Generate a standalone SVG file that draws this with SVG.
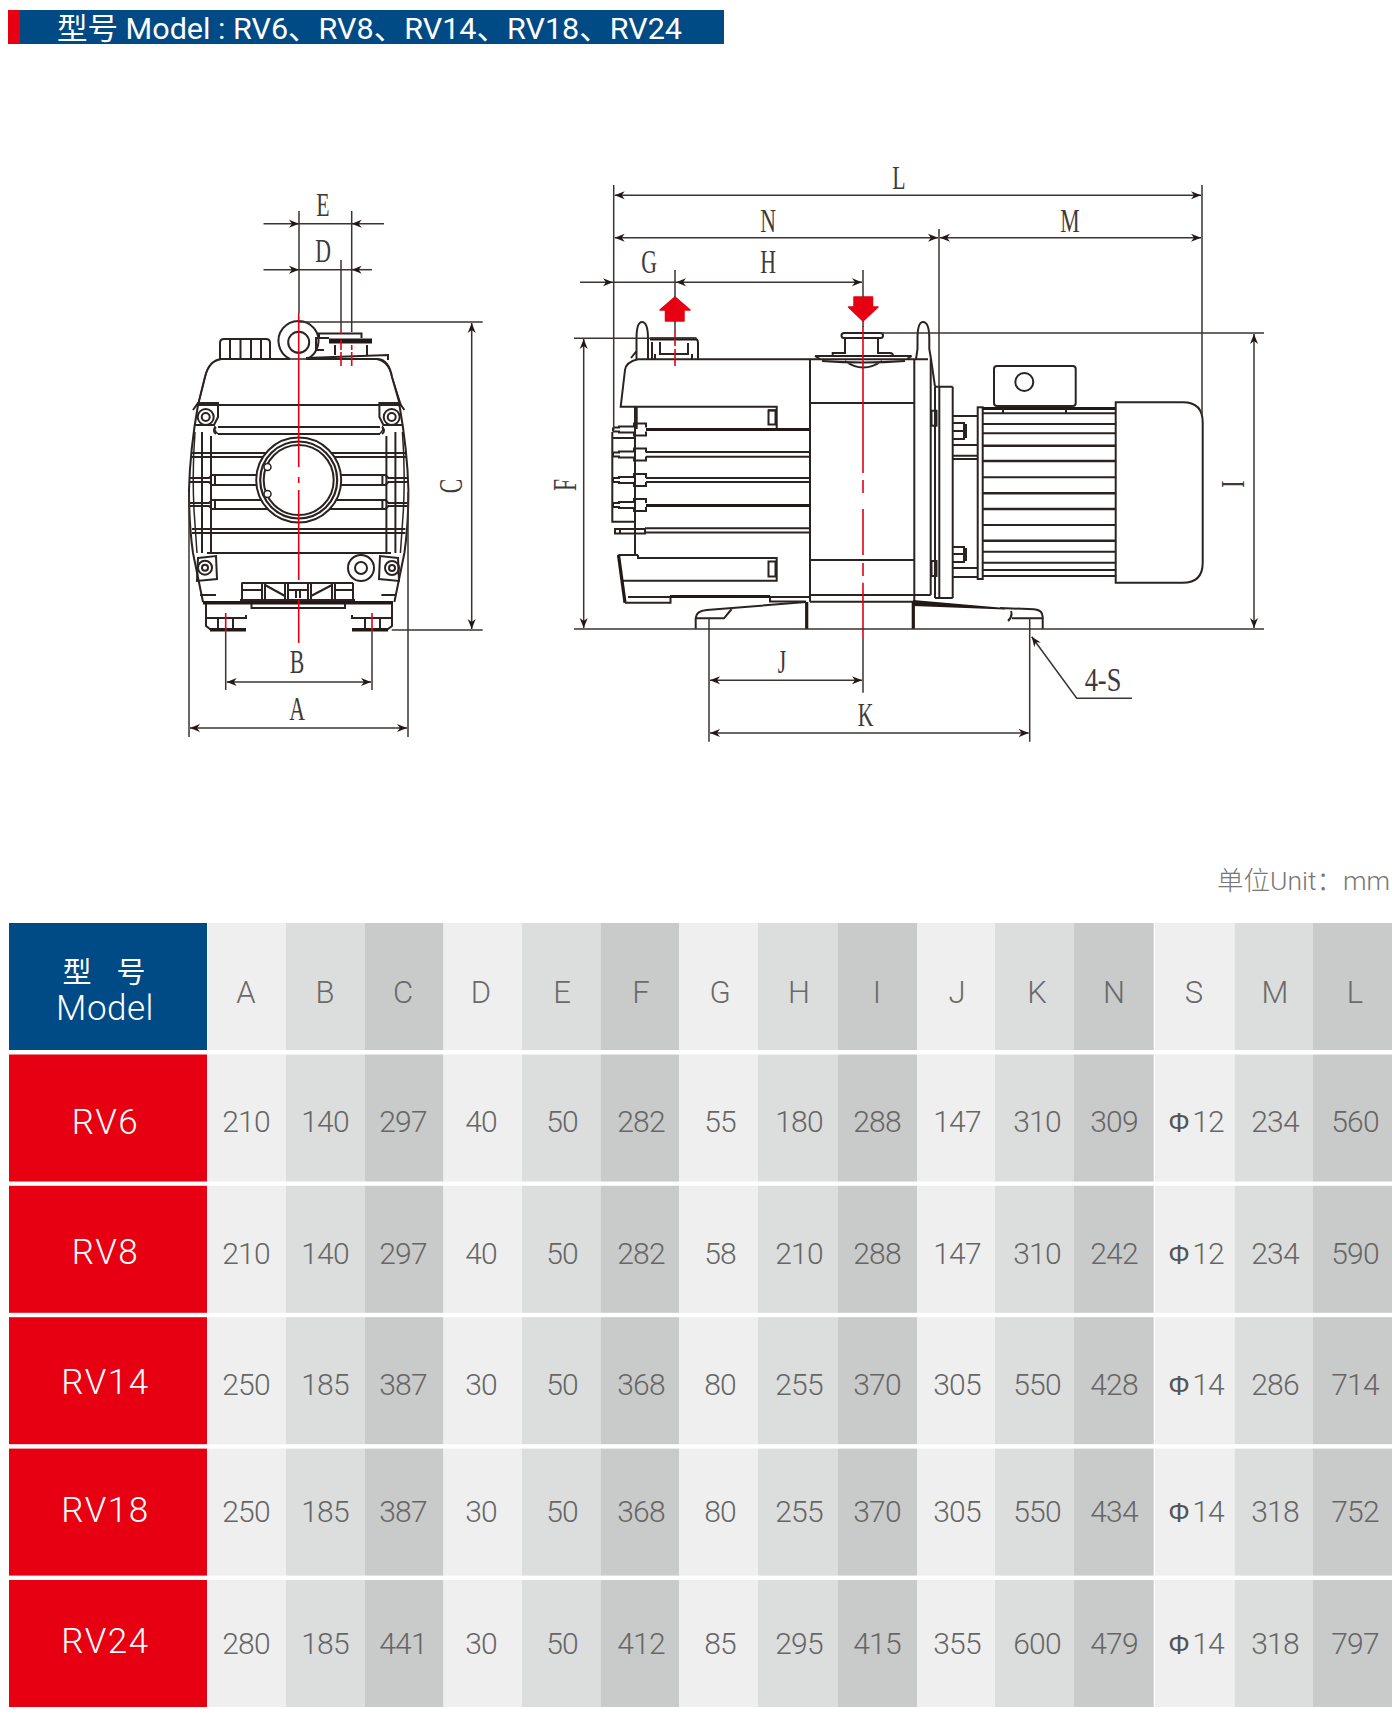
<svg xmlns="http://www.w3.org/2000/svg" xmlns:xlink="http://www.w3.org/1999/xlink" width="1400" height="1717" viewBox="0 0 1400 1717">
<style>
.l{fill:none;stroke:#2a2321;stroke-width:1.5}
.lf{fill:#fff;stroke:#2a2321;stroke-width:1.5}
.m{fill:none;stroke:#2a2321;stroke-width:2}
.t{fill:none;stroke:#231815;stroke-width:3.2}
.d{fill:none;stroke:#3a3432;stroke-width:1.5}
.da{fill:none;stroke:#3a3432;stroke-width:1.5;marker-end:url(#ah)}
.db{fill:none;stroke:#3a3432;stroke-width:1.5;marker-end:url(#ah);marker-start:url(#ah)}
.r{fill:none;stroke:#e60012;stroke-width:1.6}
.rf{fill:#e60012;stroke:#e60012;stroke-width:1.5;stroke-linejoin:round}
.dl{font-family:"Liberation Serif",serif;font-size:33px;fill:#3e3a39;text-anchor:middle}
.c{font-family:Roboto,"Liberation Sans",sans-serif;font-weight:300;font-size:30px;fill:#666;text-anchor:middle;letter-spacing:-.8px}
.h{font-family:Roboto,"Liberation Sans",sans-serif;font-weight:300;font-size:31px;fill:#6a6a6a;text-anchor:middle}
.w{font-family:Roboto,"Liberation Sans",sans-serif;font-weight:300;font-size:35px;fill:#fff;text-anchor:middle;letter-spacing:1.5px}
.a{fill:#efefef}.b{fill:#dcdddd}.g{fill:#c9caca}
.phi{font-family:"Liberation Sans",sans-serif;font-size:27px;font-weight:400;fill:#555;letter-spacing:0}
</style>
<defs>
<marker id="ah" markerUnits="userSpaceOnUse" markerWidth="12" markerHeight="10" refX="10" refY="5" orient="auto-start-reverse"><path d="M0,1 L10,5 L0,9 L3,5 Z" fill="#231815"/></marker>
<path id="lug" class="m" d="M613,-2 H619 V-3 H634 V-6 H646 V-2 M613,2 H619 V3 H634 V6 H646 V2 M613,-2 V2"/>
<g id="frontSide">
<path class="m" d="M198,405 Q190,450 189,490 Q189,525 193,553 L203,602"/>
<path class="l" d="M195,432 Q192,470 194,510 L197,553"/>
<path class="m" d="M202,432 V553"/>
<path class="m" d="M211,436 V553"/>
<path class="m" d="M191,453 H214 M191,457 H214"/>
<path class="m" d="M190,478 H209 L212,475 H215 V485 H212 L209,482 H190"/>
<path class="m" d="M190,503 H209 L212,500 H215 V509 H212 L209,506 H190"/>
<path class="m" d="M192,529 H212 M192,533 H212"/>
<path class="l" d="M215,426 Q213,430 218,434"/>
<circle class="m" cx="205.700" cy="417" r="8"/>
<circle class="m" cx="205.700" cy="417" r="4"/>
<path class="m" d="M193,410 L198,403 H218 V417 L214,425 H195"/>
<path class="m" d="M205,595 H216"/>
</g>
</defs>
<rect width="1400" height="1717" fill="#fff"/>
<g id="title">
<rect x="8" y="10" width="716" height="34" fill="#004a85"/>
<rect x="8" y="10" width="12" height="34" fill="#e60012"/>
<text x="57" y="38.500" font-family="Roboto,'Noto Sans CJK SC',sans-serif" font-size="30" fill="#fff" textLength="625" lengthAdjust="spacingAndGlyphs">型号 Model : RV6、RV8、RV14、RV18、RV24</text>
</g>
<g id="front-view">
<path class="lf" d="M205,377 Q209,359 224,359 H373 Q388,359 392,377 L401,405 H198 Z" stroke="none"/>
<path class="m" d="M198,405 L205,377 Q209,360 222,359 H290 M306,359 H378 Q389,360 392,377 L400,405"/>
<path class="m" d="M220,359 V343 Q220,339 224,339 H266 Q270,339 270,343 V359 M230,339 V359 M240.500,339 V359 M251,339 V359 M261,339 V359"/>
<path class="m" d="M290,359 A20,20 0 1 1 307,359"/>
<circle class="m" cx="298.700" cy="342.300" r="10.500"/>
<path class="m" d="M319,338 V333.500 H361.500 V338 M316,350 V338 H329 M316,350 H324 M335,345 V355 M367,345 V355 M306,358 L388,355 V360"/>
<rect x="329" y="338.500" width="43" height="5" fill="#231815"/>
<path class="m" d="M198,405 H400 M218,427 H380 M218,434 H380 M216,427 Q212,431 216,434 M382,427 Q386,431 382,434"/>
<path class="m" d="M212,453 H385 M212,457 H385 M212,475 H385 M212,485 H385 M212,500 H385 M212,509 H385 M192,529 H405 M192,533 H405 M207,553 H391"/>
<use xlink:href="#frontSide" href="#frontSide"/>
<use xlink:href="#frontSide" href="#frontSide" transform="translate(597.400,0) scale(-1,1)"/>
<circle class="lf" style="stroke-width:2" cx="298.700" cy="480" r="42.500"/>
<circle class="l" style="stroke-width:2.200" cx="298.700" cy="480" r="38.500"/>
<circle class="l" style="stroke-width:2" cx="298.700" cy="480" r="35"/>
<circle class="lf" cx="267.500" cy="467" r="3.500"/>
<circle class="lf" cx="267.500" cy="494" r="3.500"/>
<path class="m" d="M198,558 L216,556 L217,579 L197,581 Z M398,558 L380,556 L379,579 L399,581 Z"/>
<circle class="m" cx="205" cy="567.700" r="7"/><circle class="m" cx="205" cy="567.700" r="3"/>
<circle class="m" cx="392" cy="568" r="7"/><circle class="m" cx="392" cy="568" r="3"/>
<circle class="m" cx="361" cy="568" r="13"/><circle class="m" cx="361" cy="568" r="6"/>
<path class="m" d="M200,595 H216 M382,595 H396"/>
<path class="m" d="M241.500,583 H353 M242,583 V600 M262,583 V600 M265,583 V600 M285,583 V600 M288,583 V600 M308,583 V600 M311,583 V600 M332,583 V600 M335,583 V600 M353,583 V600 M242,590 H262 M335,590 H353 M288,590 H308 M265,585 L285,596 M311,596 L332,585 M296,590 V598 M300,590 V598 M240,600 H355"/>
<rect x="203" y="601" width="190" height="3.500" fill="#231815"/>
<path class="m" d="M251.500,604 V608 H345 V604"/>
<path class="m" d="M206,604 V626 L210,629 H246 M206,618 H246 V615 M218,618 V628 M233,618 V628"/>
<path class="m" d="M392,604 V626 L388,629 H352 M392,618 H352 V615 M380,618 V628 M365,618 V628"/>
<path class="t" d="M210,630 H246 M352,630 H388"/>
<path class="r" d="M298.700,313 V467 M298.700,477 V483 M298.700,490 V580 M298.700,600 V643"/>
<path class="r" d="M341,330 V334 M341,340 V350 M341,352 V366 M351.700,345 V350 M351.700,352 V366 M225.700,613 V631.700 M372,613 V631.700"/>
</g>
<g id="side-view">
<path class="m" d="M636.500,359 V339 Q636.500,322 642,322 Q648,322 648,339 V359 M636.500,351 L631,358"/>
<path class="m" d="M650,338.500 H694 Q698,338.500 698,343 V359 M652,342 V359 M660,342 V354 H688 V343 M655,354 V359 M692,354 V359"/>
<path class="t" d="M650,339 H696"/>
<path class="m" d="M638,359.300 H928 M638,359.300 Q626,362 625,370 L620.700,406.700 H776.700 V428 M768,410.300 H776 M636.700,406.700 V429"/>
<rect class="m" x="768.500" y="410.500" width="7" height="14"/>
<path class="t" d="M646,429.500 H810"/>
<path class="m" d="M810,359 V601.700 M914.300,359 V601.700 M810,403 H914.300 M810,560 H914.300 M810,595 H930.700 M810,601.700 H915"/>
<path class="m" d="M815,356 H911.700 M815,356 L820,359 M911.700,356 L907,359 M822,361 Q863,364 905,361 M845,361 Q863,374 882,361 M832.700,356 V353 H845 V338 M878,338 V353 H890 Q893,353 893,356 M846,338 H878"/>
<rect class="m" x="841.500" y="333" width="41.500" height="5" rx="2.500"/>
<path class="m" d="M916,359 L917.500,349 V339 Q917.500,322 923,322 Q929.300,322 929.300,339 V349 L931,359 L935,386.700"/>
<path class="m" d="M935,386.700 V598 M939.300,386.700 V598 M952.700,386.700 V598 M935,386.700 H952.700 M935,598 H952.700 M930.700,359 V595"/>
<rect class="m" x="931.500" y="410.700" width="5" height="15" fill="#fff"/>
<rect class="m" x="931.500" y="561" width="5" height="15"/>
<path class="m" d="M635,406 V555 M612.300,438 V521.700 H635 M612.300,432 V438 H635 M612.300,455 V460 M612.300,478 V482"/>
<use href="#lug" y="429.500"/>
<use href="#lug" y="454.500"/>
<use href="#lug" y="480"/>
<use href="#lug" y="505"/>
<path class="m" d="M646,452 H810 M646,456.700 H810 M646,478 H810 M646,482 H810"/>
<path class="t" d="M646,505.500 H810"/>
<path class="m" d="M615,529 V533.500 H645 V529 Z M620,529 V533.500 M645,528.300 H810 M645,532.600 H810"/>
<path class="m" d="M638,555 V558 H776.700 V580.700 H623 M618.300,555 H638"/>
<rect class="m" x="768.500" y="561.500" width="7" height="15"/>
<path class="t" d="M618.500,555 L625,602.700"/>
<path class="m" d="M625,602.700 H670.500 V597 H628"/>
<path class="t" d="M670,596.500 H770"/>
<path class="m" d="M770,597 H810 M770,597 L770,601.500 H806"/>
<path class="m" d="M806,602 L706.700,610 Q696,611 695.700,618 V629 M696,618.300 H724 L731.700,609"/>
<path class="t" d="M806.700,602 V629 M913.300,602 V629"/>
<path d="M913,600 L1005,608 L1005,609.500 L913,606 Z" fill="#231815"/>
<path class="m" d="M1000,608 L1034,609.300 Q1042.700,610 1042.700,617 V629 M1011,611 Q1013,616 1008,621 M1012,618.300 H1042"/>
<rect x="994" y="366" width="81.700" height="40" rx="3" class="m"/>
<circle class="m" cx="1024.300" cy="382" r="9"/>
<rect class="m" x="977.700" y="407.300" width="5" height="171.700"/>
<path class="t" d="M982.700,408.500 H1115.700"/>
<path class="m" d="M982.700,413.300 H1115.700 M982.700,424 H1115.700 M982.700,433.300 H1115.700 M982.700,551.700 H1115.700 M982.700,562.700 H1115.700 M982.700,570 H1115.700 M982.700,477.300 H1115.700 M982.700,525 H1115.700 M982.700,576 H1115.700 M1003,408 V413 M1066,408 V413"/>
<path class="m" style="stroke-width:2.500" d="M982.700,445.700 H1115.700 M982.700,461 H1115.700 M982.700,493.300 H1115.700 M982.700,509 H1115.700 M982.700,540.700 H1115.700"/>
<path class="m" d="M1115.700,402.300 H1182.700 Q1202.700,402.300 1202.700,422.300 V562.700 Q1202.700,582.700 1182.700,582.700 H1115.700 Z"/>
<path class="m" d="M952.700,416 H977.700 M952.700,445 H977.700 M952.700,455.700 H977.700 M952.700,459 H977.700 M952.700,568 H977.700 M952.700,577 H977.700"/>
<path class="m" d="M953,423 H964 V439 H953 M964,425 H966 V437 H964 M953,431 H964 M953,547 H964 V562 H953 M964,549 H966 V560 H964 M953,554 H964"/>
<path class="rf" d="M675,297 L660,310 H665.500 V321 H684 V310 H690 Z"/>
<path class="rf" d="M854,297 H872.500 V307 H878 L863,321 L848.500,307 H854 Z"/>
<path class="r" d="M675,331.700 V346 M675,349 V366 M863,326 V473 M863,480 V493 M863,509 V555 M863,563 V576 M863,582.700 V638"/>
</g>
<g id="connectors">
<path class="d" d="M299,211 V313 M351.700,211 V332 M341,260 V330"/>
<path class="da" d="M263.500,223.700 H299"/><path class="da" d="M384,223.700 H351.700"/><path class="d" d="M299,223.700 H351.700"/>
<path class="da" d="M263.500,269.700 H299"/><path class="da" d="M372,269.700 H351.700"/><path class="d" d="M299,269.700 H351.700"/>
<path class="d" d="M299,322 H482.700 M391.700,630 H482.700"/>
<path class="db" d="M471.700,323 V629"/>
<path class="d" d="M189,492 V737 M408,492 V737 M225.700,631.700 V690 M372,631.700 V690"/>
<path class="db" d="M190,728 H407"/><path class="db" d="M226.700,682 H371"/>
<path class="d" d="M613.700,185 V430 M1202,185 V415 M939,229 V387 M675,270 V297 M863,270 V297 M675,321 V332 M863,321 V327"/>
<path class="db" d="M614.700,195.300 H1201"/>
<path class="db" d="M614.700,237.700 H938"/><path class="db" d="M940,237.700 H1201"/>
<path class="da" d="M580,282.300 H613"/><path class="d" d="M613.700,282.300 H676"/><path class="db" d="M676,282.300 H862"/>
<path class="d" d="M574,338.300 H696.700 M880,333 H1264 M574,629 H1264"/>
<path class="db" d="M583.700,339 V628"/><path class="db" d="M1254,334 V628"/>
<path class="d" d="M709,618 V741.700 M1029.700,618 V741.700 M863,638 V692.700"/>
<path class="db" d="M710,680.300 H862"/><path class="db" d="M710,733 H1028.700"/>
<path class="da" d="M1132,698.300 H1076.700 L1031.700,636.700"/>
<text class="dl" transform="translate(323,216) scale(.66,1)">E</text>
<text class="dl" transform="translate(323,262) scale(.66,1)">D</text>
<text class="dl" transform="translate(297,673) scale(.66,1)">B</text>
<text class="dl" transform="translate(297,720) scale(.66,1)">A</text>
<text class="dl" transform="translate(462,486) rotate(-90) scale(.66,1)">C</text>
<text class="dl" transform="translate(576,485) rotate(-90) scale(.66,1)">F</text>
<text class="dl" transform="translate(1244,484) rotate(-90) scale(.66,1)">I</text>
<text class="dl" transform="translate(899,189) scale(.66,1)">L</text>
<text class="dl" transform="translate(768,232) scale(.66,1)">N</text>
<text class="dl" transform="translate(1070,232) scale(.66,1)">M</text>
<text class="dl" transform="translate(649,273) scale(.66,1)">G</text>
<text class="dl" transform="translate(768,273) scale(.66,1)">H</text>
<text class="dl" transform="translate(782,673) scale(.66,1)">J</text>
<text class="dl" transform="translate(865.700,726) scale(.66,1)">K</text>
<text class="dl" transform="translate(1103,691) scale(.8,1)">4-S</text>
</g>
<text x="1390" y="890" text-anchor="end" font-family="Roboto,'Noto Sans CJK SC',sans-serif" font-weight="300" font-size="26.500" fill="#777">单位Unit：mm</text>
<g id="table-grid">
<rect x="9" y="923" width="198" height="127" fill="#004a85"/>
<rect x="9" y="1054.500" width="198" height="127" fill="#e60012"/>
<rect x="9" y="1185.800" width="198" height="127" fill="#e60012"/>
<rect x="9" y="1317.200" width="198" height="127" fill="#e60012"/>
<rect x="9" y="1448.600" width="198" height="127" fill="#e60012"/>
<rect x="9" y="1580" width="198" height="127" fill="#e60012"/>
<g id="col-rects">
<g id="row0">
<rect class="a" x="207.500" y="923" width="78.500" height="127"/><rect class="b" x="286" y="923" width="79" height="127"/><rect class="g" x="365" y="923" width="78.500" height="127"/>
<rect class="a" x="443.500" y="923" width="78.500" height="127"/><rect class="b" x="522" y="923" width="78.500" height="127"/><rect class="g" x="600.500" y="923" width="78.500" height="127"/>
<rect class="a" x="679" y="923" width="79" height="127"/><rect class="b" x="758" y="923" width="80" height="127"/><rect class="g" x="838" y="923" width="79" height="127"/>
<rect class="a" x="917" y="923" width="78" height="127"/><rect class="b" x="995" y="923" width="79" height="127"/><rect class="g" x="1074" y="923" width="79.700" height="127"/>
<rect class="a" x="1155" y="923" width="79.700" height="127"/><rect class="b" x="1234.700" y="923" width="78.300" height="127"/><rect class="g" x="1313" y="923" width="79" height="127"/>
</g>
<use href="#row0" y="131.500"/><use href="#row0" y="262.800"/><use href="#row0" y="394.200"/><use href="#row0" y="525.600"/><use href="#row0" y="657"/>
</g>
</g>
<g id="table-head">
<text x="77 131" y="983" text-anchor="middle" font-family="'Noto Sans CJK SC',sans-serif" font-size="29" fill="#fff"><tspan x="77">型</tspan><tspan x="131">号</tspan></text>
<text class="w" x="105" y="1020" style="letter-spacing:.5px">Model</text>
<text class="h" y="1003"><tspan x="246">A</tspan><tspan x="325">B</tspan><tspan x="403">C</tspan><tspan x="481">D</tspan><tspan x="562">E</tspan><tspan x="641">F</tspan><tspan x="720">G</tspan><tspan x="799">H</tspan><tspan x="877">I</tspan><tspan x="957">J</tspan><tspan x="1037">K</tspan><tspan x="1114">N</tspan><tspan x="1194">S</tspan><tspan x="1275">M</tspan><tspan x="1355">L</tspan></text>
</g>
<g id="row-rv6"><text class="w" x="105.500" y="1134">RV6</text>
<text class="c" y="1132"><tspan x="246">210</tspan><tspan x="325">140</tspan><tspan x="403">297</tspan><tspan x="481">40</tspan><tspan x="562">50</tspan><tspan x="641">282</tspan><tspan x="720">55</tspan><tspan x="799">180</tspan><tspan x="877">288</tspan><tspan x="957">147</tspan><tspan x="1037">310</tspan><tspan x="1114">309</tspan><tspan class="phi" x="1179">Φ</tspan><tspan x="1208">12</tspan><tspan x="1275">234</tspan><tspan x="1355">560</tspan></text></g>
<g id="row-rv8"><text class="w" x="105.500" y="1264">RV8</text>
<text class="c" y="1264"><tspan x="246">210</tspan><tspan x="325">140</tspan><tspan x="403">297</tspan><tspan x="481">40</tspan><tspan x="562">50</tspan><tspan x="641">282</tspan><tspan x="720">58</tspan><tspan x="799">210</tspan><tspan x="877">288</tspan><tspan x="957">147</tspan><tspan x="1037">310</tspan><tspan x="1114">242</tspan><tspan class="phi" x="1179">Φ</tspan><tspan x="1208">12</tspan><tspan x="1275">234</tspan><tspan x="1355">590</tspan></text></g>
<g id="row-rv14"><text class="w" x="105.500" y="1394">RV14</text>
<text class="c" y="1394.500"><tspan x="246">250</tspan><tspan x="325">185</tspan><tspan x="403">387</tspan><tspan x="481">30</tspan><tspan x="562">50</tspan><tspan x="641">368</tspan><tspan x="720">80</tspan><tspan x="799">255</tspan><tspan x="877">370</tspan><tspan x="957">305</tspan><tspan x="1037">550</tspan><tspan x="1114">428</tspan><tspan class="phi" x="1179">Φ</tspan><tspan x="1208">14</tspan><tspan x="1275">286</tspan><tspan x="1355">714</tspan></text></g>
<g id="row-rv18"><text class="w" x="105.500" y="1522">RV18</text>
<text class="c" y="1522"><tspan x="246">250</tspan><tspan x="325">185</tspan><tspan x="403">387</tspan><tspan x="481">30</tspan><tspan x="562">50</tspan><tspan x="641">368</tspan><tspan x="720">80</tspan><tspan x="799">255</tspan><tspan x="877">370</tspan><tspan x="957">305</tspan><tspan x="1037">550</tspan><tspan x="1114">434</tspan><tspan class="phi" x="1179">Φ</tspan><tspan x="1208">14</tspan><tspan x="1275">318</tspan><tspan x="1355">752</tspan></text></g>
<g id="row-rv24"><text class="w" x="105.500" y="1653">RV24</text>
<text class="c" y="1654"><tspan x="246">280</tspan><tspan x="325">185</tspan><tspan x="403">441</tspan><tspan x="481">30</tspan><tspan x="562">50</tspan><tspan x="641">412</tspan><tspan x="720">85</tspan><tspan x="799">295</tspan><tspan x="877">415</tspan><tspan x="957">355</tspan><tspan x="1037">600</tspan><tspan x="1114">479</tspan><tspan class="phi" x="1179">Φ</tspan><tspan x="1208">14</tspan><tspan x="1275">318</tspan><tspan x="1355">797</tspan></text></g>
</svg>
